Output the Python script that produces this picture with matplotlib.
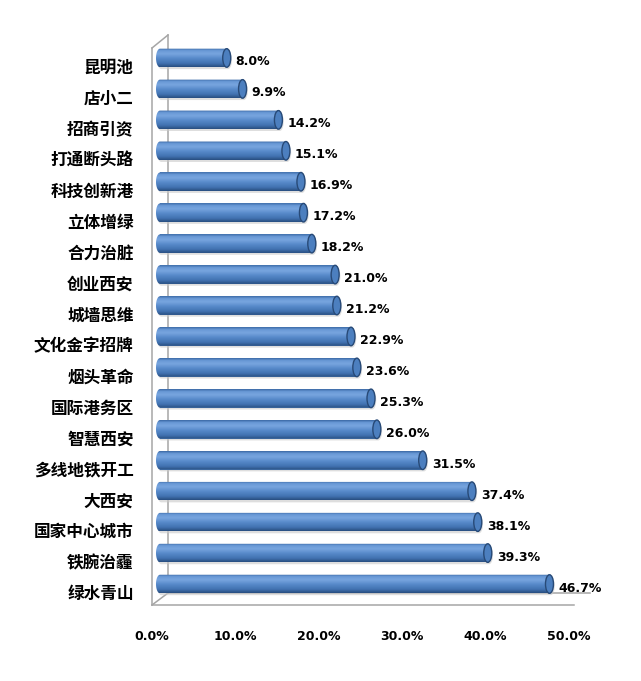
import numpy as np
import matplotlib
matplotlib.use("Agg")
import matplotlib.pyplot as plt
from matplotlib.patches import Polygon, Ellipse
from matplotlib.transforms import ScaledTranslation
from matplotlib.colors import to_rgb

categories = ["昆明池", "店小二", "招商引资", "打通断头路", "科技创新港", "立体增绿",
              "合力治脏", "创业西安", "城墙思维", "文化金字招牌", "烟头革命", "国际港务区",
              "智慧西安", "多线地铁开工", "大西安", "国家中心城市", "铁腕治霾", "绿水青山"]
values = [8.0, 9.9, 14.2, 15.1, 16.9, 17.2, 18.2, 21.0, 21.2, 22.9, 23.6, 25.3,
          26.0, 31.5, 37.4, 38.1, 39.3, 46.7]
xticks = [0, 10, 20, 30, 40, 50]
xticklabels = ["0.0%", "10.0%", "20.0%", "30.0%", "40.0%", "50.0%"]

W, H = 641, 681
fig = plt.figure(figsize=(W / 100, H / 100), dpi=100)
fig.patch.set_facecolor("white")

x0_px, x50_px, ax_top, ax_bot = 160, 577, 42.5, 599.5
px_per_unit = (x50_px - x0_px) / 50.0
xmin = -1.0
ax_left = x0_px + xmin * px_per_unit
ax = fig.add_axes([ax_left / W, 1 - ax_bot / H, (x50_px - ax_left) / W, (ax_bot - ax_top) / H])
ax.patch.set_visible(False)
for s in ax.spines.values():
    s.set_visible(False)

# 3D-style frame (walls and floor), in figure pixels
def fx(x):
    return x / W
def fy(y):
    return 1 - y / H
frame_col = "#a6a6a6"
segs = [
    [(152, 48), (152, 605)],
    [(168, 35), (168, 593)],
    [(152, 48), (168, 35)],
    [(152, 605), (168, 593)],
    [(152, 605), (574, 605)],
    [(168, 593), (590, 593)],
]
for (xa, ya), (xb, yb) in segs:
    ax.plot([fx(xa), fx(xb)], [fy(ya), fy(yb)], color=frame_col, lw=1.1,
            transform=fig.transFigure, clip_on=False, zorder=0.5)

# gradient for cylinder bars
stops = [(0.0, "#3a68a3"), (0.12, "#6898d6"), (0.3, "#78a5df"), (0.55, "#5689c9"),
         (0.8, "#4273b2"), (1.0, "#284e80")]
n = 64
t = np.linspace(0, 1, n)
pos = [s[0] for s in stops]
cols = np.array([to_rgb(s[1]) for s in stops])
grad = np.stack([np.interp(t, pos, cols[:, k]) for k in range(3)], axis=1)
grad_img = grad[:, None, :]

bar_h = 0.6
b = bar_h / 2
a = 4.0 / px_per_unit

bars = ax.barh(range(len(values)), values, height=bar_h, color="#4f81bd", zorder=2)
for i, (v, rect) in enumerate(zip(values, bars)):
    th_r = np.linspace(-np.pi / 2, np.pi / 2, 40)
    th_l = np.linspace(np.pi / 2, 3 * np.pi / 2, 40)
    xs = np.concatenate([v + a * np.cos(th_r), 0 + a * np.cos(th_l)])
    ys = np.concatenate([i + b * np.sin(th_r), i + b * np.sin(th_l)])
    poly = Polygon(np.column_stack([xs, ys]), closed=True, facecolor="none",
                   edgecolor="none", transform=ax.transData)
    ax.add_patch(poly)
    sh = Polygon(np.column_stack([xs + 0.15, ys + 0.06]), closed=True,
                 facecolor="#c8c8c8", edgecolor="none", alpha=0.6, zorder=1.5)
    ax.add_patch(sh)
    im = ax.imshow(grad_img, extent=[-a, v + a, i + b, i - b], aspect="auto",
                   zorder=3, interpolation="bilinear")
    im.set_clip_path(poly)
    cap = Ellipse((v, i), 2 * a, 2 * b, facecolor="#4c7fbf", edgecolor="#284a77",
                  lw=1.0, zorder=4)
    ax.add_patch(cap)
    ax.annotate(f"{v:.1f}%", xy=(v, i), xytext=(a * px_per_unit + 5, -4),
                textcoords="offset pixels", ha="left", va="center",
                fontsize=9, fontweight="bold", color="black",
                family=["DejaVu Sans"], zorder=5)

ax.set_xlim(xmin, 50)
ax.set_ylim(len(values) - 0.5, -0.5)

ax.set_yticks(range(len(values)))
ax.set_yticklabels(categories, fontsize=12, fontweight="bold",
                   family=["Noto Sans CJK SC", "DejaVu Sans"])
ax.tick_params(axis="y", length=0, pad=19 - (-xmin * px_per_unit) / 1.389)
for lab in ax.get_yticklabels():
    lab.set_transform(lab.get_transform() + ScaledTranslation(0, -8 / 100, fig.dpi_scale_trans))

ax.set_xticks(xticks)
ax.set_xticklabels(xticklabels, fontsize=9, fontweight="bold", family=["DejaVu Sans"])
ax.tick_params(axis="x", length=0, pad=22)
for lab in ax.get_xticklabels():
    lab.set_transform(lab.get_transform() + ScaledTranslation(-8 / 100, 0, fig.dpi_scale_trans))

fig.savefig("out.png", dpi=100, facecolor="white")
